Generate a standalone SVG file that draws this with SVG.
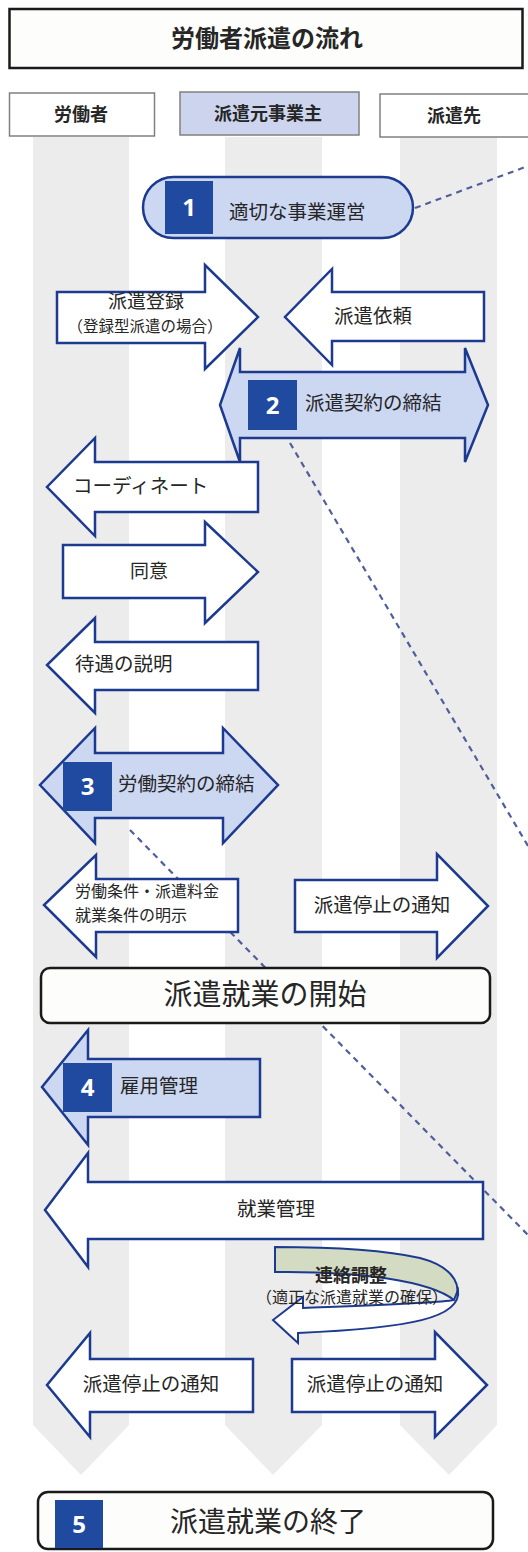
<svg xmlns="http://www.w3.org/2000/svg" width="528" height="1552" viewBox="0 0 528 1552">
<style>
.lane{fill:#ececec}
.hdr{fill:#ffffff;stroke:#808080;stroke-width:1.5}
.hdrb{fill:#cdd5ee;stroke:#808080;stroke-width:1.5}
.t{font-family:"Noto Sans CJK JP","Noto Sans",sans-serif;fill:#262626}
.b{font-weight:700}
.arw{fill:#ffffff;stroke:#1c3a8f;stroke-width:2.5;stroke-linejoin:miter}
.arb{fill:#ccd7f2;stroke:#1c3a8f;stroke-width:2.5;stroke-linejoin:miter}
.num{fill:#1f4a9f}
.nt{font-family:"Open Sans","Liberation Sans",sans-serif;font-weight:700;fill:#ffffff;font-size:24px}
.box{fill:#fdfdfb;stroke:#1a1a1a;stroke-width:2.5}
.dash{fill:none;stroke:#4f5f9c;stroke-width:2.2;stroke-dasharray:6 5}
</style>
<rect x="0" y="0" width="528" height="1552" fill="#ffffff"/>
<g id="lanes">
<path class="lane" d="M33,137 H129 V1425 L81,1475 L33,1425 Z"/>
<path class="lane" d="M225,137 H322 V1425 L273,1475 L225,1425 Z"/>
<path class="lane" d="M400,137 H497 V1425 L449,1475 L400,1425 Z"/>
</g>
<g id="title">
<rect class="box" x="9.5" y="9" width="513" height="59"/>
<text class="t b" x="267" y="47" font-size="24" text-anchor="middle">労働者派遣の流れ</text>
</g>
<g id="header-worker">
<rect class="hdr" x="9.5" y="93" width="145" height="43"/>
<text class="t b" x="81" y="121" font-size="18" text-anchor="middle">労働者</text>
</g>
<g id="header-dispatcher">
<rect class="hdrb" x="180" y="92" width="179" height="43"/>
<text class="t b" x="268" y="120" font-size="18" text-anchor="middle">派遣元事業主</text>
</g>
<g id="header-client">
<rect class="hdr" x="380" y="94" width="160" height="43"/>
<text class="t b" x="454" y="122" font-size="18" text-anchor="middle">派遣先</text>
</g>
<g id="connectors">
<path class="dash" d="M415,208 L528,166" stroke-width="3" stroke-dasharray="8 5"/>
<path class="dash" d="M290,443 L528,846"/>
<path class="dash" d="M130,830 L528,1235"/>
</g>
<g id="step1">
<rect class="arb" x="143" y="177" width="270" height="61" rx="30.5"/>
<rect class="num" x="165" y="181" width="48" height="53"/>
<text class="nt" x="189" y="216" text-anchor="middle">1</text>
<text class="t" x="229" y="214" font-size="19.5" dominant-baseline="middle">適切な事業運営</text>
</g>
<g id="registration">
<path class="arw" d="M57,292 L205,292 L205,265 L258,317 L205,369 L205,343 L57,343 Z"/>
<text class="t" x="146" y="308" font-size="19" text-anchor="middle">派遣登録</text>
<text class="t" x="145" y="332" font-size="15.5" text-anchor="middle">（登録型派遣の場合）</text>
</g>
<g id="request">
<path class="arw" d="M484,292 L332,292 L332,269 L285,317 L332,365 L332,341 L484,341 Z"/>
<text class="t" x="373" y="318" font-size="19.5" text-anchor="middle" dominant-baseline="middle">派遣依頼</text>
</g>
<g id="step2">
<path class="arb" d="M240,372 L465,372 L465,348 L488,405 L465,462 L465,438 L240,438 L240,462 L220,405 L240,348 Z"/>
<rect class="num" x="248" y="380" width="49" height="50"/>
<text class="nt" x="272.5" y="414" text-anchor="middle">2</text>
<text class="t" x="305" y="405" font-size="19.5" dominant-baseline="middle">派遣契約の締結</text>
</g>
<g id="coordinate">
<path class="arw" d="M258,462 L95,462 L95,438 L47,487 L95,536 L95,512 L258,512 Z"/>
<text class="t" x="73" y="488" font-size="19.5" dominant-baseline="middle">コーディネート</text>
</g>
<g id="consent">
<path class="arw" d="M63,545 L205,545 L205,522 L258,572 L205,623 L205,598 L63,598 Z"/>
<text class="t" x="149" y="573" font-size="19" text-anchor="middle" dominant-baseline="middle">同意</text>
</g>
<g id="treatment">
<path class="arw" d="M258,642 L95,642 L95,618 L47,665 L95,713 L95,690 L258,690 Z"/>
<text class="t" x="75" y="666" font-size="19.5" dominant-baseline="middle">待遇の説明</text>
</g>
<g id="step3">
<path class="arb" d="M95,753 L223,753 L223,728 L278,785 L223,843 L223,818 L95,818 L95,843 L40,785 L95,728 Z"/>
<rect class="num" x="63" y="762" width="49" height="49"/>
<text class="nt" x="87.5" y="795" text-anchor="middle">3</text>
<text class="t" x="118" y="786" font-size="19.5" dominant-baseline="middle">労働契約の締結</text>
</g>
<g id="conditions">
<path class="arw" d="M238,879 L96,879 L96,855 L44,905 L96,957 L96,932 L238,932 Z"/>
<text class="t" x="75" y="893" font-size="16" dominant-baseline="middle">労働条件・派遣料金</text>
<text class="t" x="75" y="917" font-size="16" dominant-baseline="middle">就業条件の明示</text>
</g>
<g id="stop-notice-1">
<path class="arw" d="M295,880 L437,880 L437,854 L488,906 L437,958 L437,932 L295,932 Z"/>
<text class="t" x="382" y="907" font-size="19.5" text-anchor="middle" dominant-baseline="middle">派遣停止の通知</text>
</g>
<g id="start">
<rect class="box" x="41" y="968" width="449" height="55" rx="9"/>
<text class="t" x="265" y="997" font-size="29" text-anchor="middle" dominant-baseline="middle">派遣就業の開始</text>
</g>
<g id="step4">
<path class="arb" d="M260,1059 L88,1059 L88,1030 L42,1087 L88,1145 L88,1117 L260,1117 Z"/>
<rect class="num" x="63" y="1063" width="49" height="49"/>
<text class="nt" x="87.5" y="1096" text-anchor="middle">4</text>
<text class="t" x="120" y="1088" font-size="19.5" dominant-baseline="middle">雇用管理</text>
</g>
<g id="work-management">
<path class="arw" d="M483,1182 L88,1182 L88,1153 L45,1210 L88,1267 L88,1239 L483,1239 Z"/>
<text class="t" x="276" y="1211" font-size="19.5" text-anchor="middle" dominant-baseline="middle">就業管理</text>
</g>
<g id="liaison">
<path d="M275,1247 L275,1272 C360,1271 430,1281 454,1300 C462,1290 458,1268 420,1258 C380,1249 320,1247 275,1247 Z" fill="#d3dbc3" stroke="#1c3a8f" stroke-width="2"/>
<path d="M458,1290 C462,1318 410,1328 298,1333 L298,1343 L273,1320 L303,1297 L303,1308 C380,1305 440,1303 454,1300 Z" fill="#ffffff" stroke="#1c3a8f" stroke-width="2"/>
<text class="t b" x="351" y="1277" font-size="18" text-anchor="middle" dominant-baseline="middle">連絡調整</text>
<text class="t" x="352" y="1299" font-size="16" text-anchor="middle" dominant-baseline="middle">（適正な派遣就業の確保）</text>
</g>
<g id="stop-notice-2">
<path class="arw" d="M253,1359 L90,1359 L90,1333 L47,1385 L90,1437 L90,1412 L253,1412 Z"/>
<text class="t" x="151" y="1386" font-size="19.5" text-anchor="middle" dominant-baseline="middle">派遣停止の通知</text>
</g>
<g id="stop-notice-3">
<path class="arw" d="M292,1359 L435,1359 L435,1332 L487,1385 L435,1437 L435,1412 L292,1412 Z"/>
<text class="t" x="375" y="1386" font-size="19.5" text-anchor="middle" dominant-baseline="middle">派遣停止の通知</text>
</g>
<g id="step5">
<rect class="box" x="38" y="1492" width="455" height="57" rx="10"/>
<rect class="num" x="55" y="1500" width="48" height="48"/>
<text class="nt" x="79" y="1533" text-anchor="middle">5</text>
<text class="t" x="268" y="1524" font-size="28" text-anchor="middle" dominant-baseline="middle">派遣就業の終了</text>
</g>
</svg>
